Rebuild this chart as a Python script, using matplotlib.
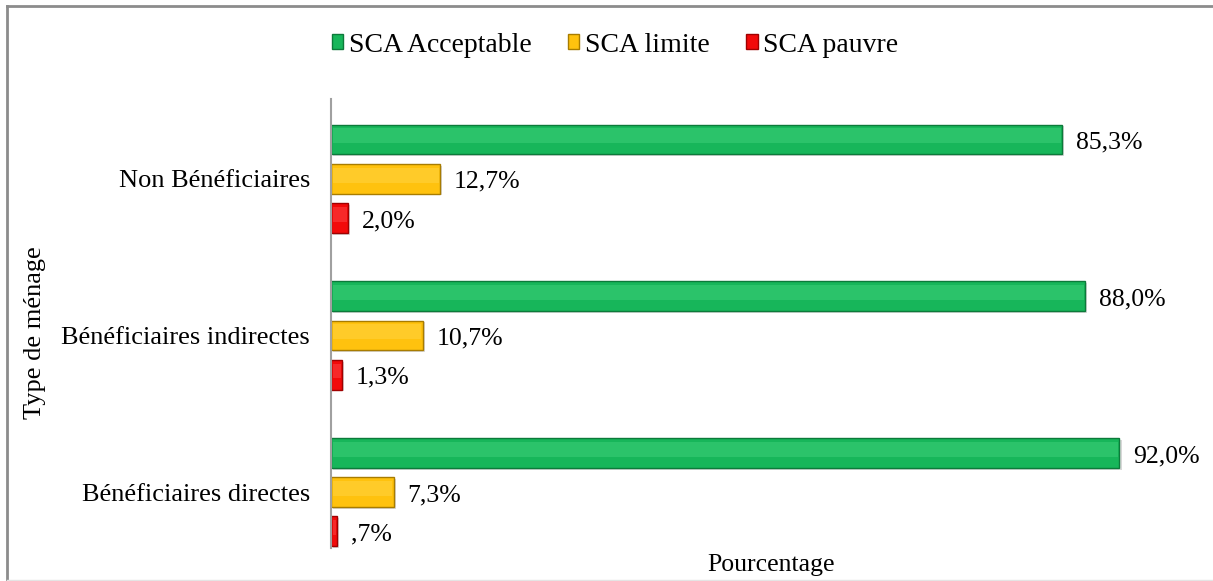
import numpy as np
import matplotlib
matplotlib.use('Agg')
import matplotlib.pyplot as plt
from matplotlib.patches import Rectangle
from matplotlib.lines import Line2D

plt.rcParams['font.family'] = ['Liberation Serif', 'DejaVu Serif']

# Data
categories = ['Bénéficiaires directes', 'Bénéficiaires indirectes', 'Non Bénéficiaires']
series_names = ['SCA Acceptable', 'SCA limite', 'SCA pauvre']
acceptable = [92.0, 88.0, 85.3]
limite = [7.3, 10.7, 12.7]
pauvre = [0.7, 1.3, 2.0]
labels_acceptable = ['92,0%', '88,0%', '85,3%']
labels_limite = ['7,3%', '10,7%', '12,7%']
labels_pauvre = [',7%', '1,3%', '2,0%']

colors = ['#17B65A', '#FFC20E', '#F20A0A']
edges = ['#0C7A3A', '#A87C00', '#A00000']
highlights = ['#45D47F', '#FFD84A', '#FF5050']

fig = plt.figure(figsize=(12.13, 5.81), dpi=100)
ax = fig.add_axes([331 / 1213, 1 - 548 / 581, (1188 - 331) / 1213, (548 - 99) / 581])

y = np.arange(len(categories))
h = 0.19
offsets = [0.25, 0.0, -0.25]
series = [acceptable, limite, pauvre]
labels = [labels_acceptable, labels_limite, labels_pauvre]

for vals, labs, off, c, ec, hc in zip(series, labels, offsets, colors, edges, highlights):
    # shadow
    ax.barh(y + off - 0.012, vals, height=h, left=0.25, color='#D8D8D8', zorder=1)
    ax.barh(y + off, vals, height=h, color=c, edgecolor=ec, linewidth=1.0, zorder=2)
    # bevel highlight on upper part
    ax.barh(y + off + h * 0.12, np.array(vals) - 0.35, left=0.2, height=h * 0.5,
            color=hc, alpha=0.45, linewidth=0, zorder=3)
    for yi, v, t in zip(y + off, vals, labs):
        ax.text(v + 1.6, yi - 0.02, t, va='center', ha='left', fontsize=18.5, color='black')

ax.set_xlim(0, 100)
ax.set_ylim(-0.356, 2.508)
ax.set_yticks(y)
ax.set_yticklabels(categories, fontsize=19)
ax.tick_params(axis='y', length=0, pad=15)
ax.set_xticks([])
for s in ['top', 'right', 'bottom']:
    ax.spines[s].set_visible(False)
ax.spines['left'].set_color('#A0A0A0')
ax.spines['left'].set_linewidth(1.5)

fig.text(771 / 1213, 1 - 565 / 581, 'Pourcentage', ha='center', va='center', fontsize=18.5)
fig.text(35 / 1213, 1 - 333 / 581, 'Type de ménage', ha='center', va='center',
         fontsize=19, rotation=90)

# legend
handles = [Rectangle((0, 0), 1, 1, facecolor=c, edgecolor=ec, linewidth=1)
           for c, ec in zip(colors, edges)]
fig.legend(handles, series_names, loc='center', bbox_to_anchor=(615 / 1213, 1 - 45 / 581),
           ncol=3, frameon=False, fontsize=20, handlelength=0.42, handleheight=0.42,
           handletextpad=0.2, columnspacing=1.3)

# outer border (left and top only, faint bottom)
fig.add_artist(Line2D([7 / 1213, 7 / 1213], [0, 1 - 6 / 581], transform=fig.transFigure,
                      color='#8C8C8C', linewidth=2))
fig.add_artist(Line2D([7 / 1213, 1], [1 - 6 / 581, 1 - 6 / 581], transform=fig.transFigure,
                      color='#8C8C8C', linewidth=2))
fig.add_artist(Line2D([7 / 1213, 1], [1 / 581, 1 / 581], transform=fig.transFigure,
                      color='#E4E4E4', linewidth=1))

fig.savefig('out.png', dpi=100)
